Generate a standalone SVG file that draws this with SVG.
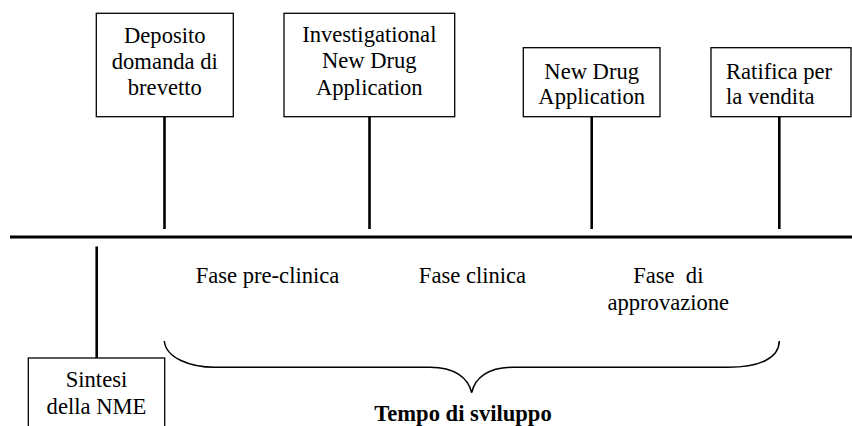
<svg xmlns="http://www.w3.org/2000/svg" width="852" height="426" viewBox="0 0 852 426">
<style>
.box{fill:#fff;stroke:#000;stroke-width:1.3}
.t{font-family:"Liberation Serif","Times New Roman",serif;font-size:22.6px;fill:#000}
.c{text-anchor:middle}
.stem{stroke:#000;stroke-width:2.6;fill:none}
.axis{stroke:#000;stroke-width:3;fill:none}
.brace{stroke:#000;stroke-width:1.5;fill:none}
</style>
<rect width="852" height="426" fill="#fff"/>
<g id="connectors">
<line class="axis" x1="10" y1="237" x2="852" y2="237"/>
<line class="stem" x1="164.5" y1="117" x2="164.5" y2="229"/>
<line class="stem" x1="369.5" y1="117" x2="369.5" y2="229"/>
<line class="stem" x1="591.7" y1="117" x2="591.7" y2="229"/>
<line class="stem" x1="779.3" y1="117" x2="779.3" y2="229"/>
<line class="stem" x1="96.7" y1="246.5" x2="96.7" y2="358"/>
<path class="brace" d="M164.3 341 C166 358 190 367.3 215 367.3 L430 367.3 C455 367.3 468 378 471.7 392.7 C475 378 488 367.3 513 367.3 L728 367.3 C760 367.3 779 358 779.3 341"/>
</g>
<g id="deposito">
<rect class="box" x="96.3" y="13.3" width="137" height="103.4"/>
<text class="t c" x="164.8" y="42.7">Deposito</text>
<text class="t c" x="164.8" y="68.6">domanda di</text>
<text class="t c" x="164.8" y="95">brevetto</text>
</g>
<g id="ind">
<rect class="box" x="284" y="13.3" width="170.7" height="103.4"/>
<text class="t c" x="369.3" y="42">Investigational</text>
<text class="t c" x="369.3" y="68.3">New Drug</text>
<text class="t c" x="369.3" y="95">Application</text>
</g>
<g id="nda">
<rect class="box" x="523.3" y="47.7" width="136.7" height="69"/>
<text class="t c" x="591.7" y="79">New Drug</text>
<text class="t c" x="591.7" y="104">Application</text>
</g>
<g id="ratifica">
<rect class="box" x="711" y="47.7" width="140" height="69"/>
<text class="t" x="726" y="79">Ratifica per</text>
<text class="t" x="726" y="104">la vendita</text>
</g>
<g id="sintesi">
<rect class="box" x="28.3" y="358" width="136.4" height="80"/>
<text class="t c" x="96.5" y="386.7">Sintesi</text>
<text class="t c" x="96.5" y="414.3">della NME</text>
</g>
<g id="labels">
<text class="t c" x="267.5" y="283">Fase pre-clinica</text>
<text class="t c" x="472.5" y="283">Fase clinica</text>
<text class="t c" x="668.3" y="283" xml:space="preserve">Fase  di</text>
<text class="t c" x="668.3" y="310">approvazione</text>
<text class="t c" x="463" y="420.7" font-weight="bold">Tempo di sviluppo</text>
</g>
</svg>
